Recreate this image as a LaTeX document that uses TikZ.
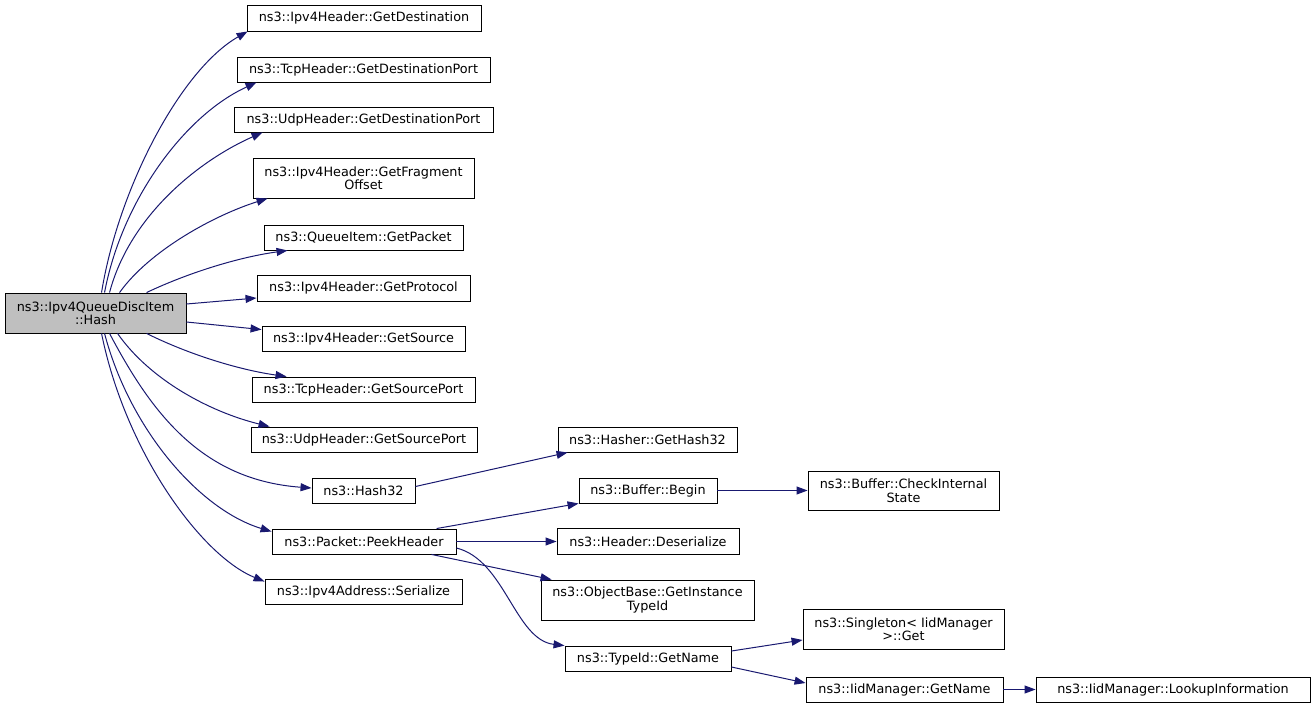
\documentclass[tikz,border=0pt]{standalone}
\usepackage{fontspec}
\setmainfont{DejaVu Sans}
\usetikzlibrary{arrows.meta,calc}
\definecolor{edgeblue}{HTML}{191970}
\definecolor{mainfill}{HTML}{BFBFBF}
\begin{document}
\begin{tikzpicture}[x=1pt,y=-1pt,
  box/.style={draw=black, line width=0.9pt, fill=white, inner sep=0pt, align=center,
    font=\fontsize{12.8}{13.5}\selectfont},
  mainbox/.style={box, fill=mainfill},
  e/.style={draw=edgeblue, line width=1pt, -{Triangle[length=11pt,width=8pt]}}]
\useasboundingbox (0,0) rectangle (1315,707);
% nodes
\node[mainbox, minimum width=181pt, minimum height=40pt] (main) at (95.5,313) {ns3::Ipv4QueueDiscItem\\::Hash};
\node[box, minimum width=234pt, minimum height=26pt] (n1) at (364,18) {ns3::Ipv4Header::GetDestination};
\node[box, minimum width=253pt, minimum height=25pt] (n2) at (363.5,69.5) {ns3::TcpHeader::GetDestinationPort};
\node[box, minimum width=259pt, minimum height=25pt] (n3) at (363.5,119.5) {ns3::UdpHeader::GetDestinationPort};
\node[box, minimum width=221pt, minimum height=40pt] (n4) at (363.5,178) {ns3::Ipv4Header::GetFragment\\Offset};
\node[box, minimum width=199pt, minimum height=25pt] (n5) at (363.5,237.5) {ns3::QueueItem::GetPacket};
\node[box, minimum width=213pt, minimum height=26pt] (n6) at (363.5,288) {ns3::Ipv4Header::GetProtocol};
\node[box, minimum width=203pt, minimum height=25pt] (n7) at (363.5,338.5) {ns3::Ipv4Header::GetSource};
\node[box, minimum width=223pt, minimum height=25pt] (n8) at (363.5,389.5) {ns3::TcpHeader::GetSourcePort};
\node[box, minimum width=226pt, minimum height=25pt] (n9) at (364,439.5) {ns3::UdpHeader::GetSourcePort};
\node[box, minimum width=103pt, minimum height=25pt] (n10) at (363.5,490.5) {ns3::Hash32};
\node[box, minimum width=184pt, minimum height=25pt] (n11) at (364,541.5) {ns3::Packet::PeekHeader};
\node[box, minimum width=197pt, minimum height=25pt] (n12) at (363.5,591.5) {ns3::Ipv4Address::Serialize};
\node[box, minimum width=179pt, minimum height=25pt] (h1) at (647.5,439.5) {ns3::Hasher::GetHash32};
\node[box, minimum width=138pt, minimum height=25pt] (b1) at (648,490.5) {ns3::Buffer::Begin};
\node[box, minimum width=191pt, minimum height=39pt] (c1) at (903.5,490.5) {ns3::Buffer::CheckInternal\\State};
\node[box, minimum width=182pt, minimum height=26pt] (d1) at (648,541.5) {ns3::Header::Deserialize};
\node[box, minimum width=213pt, minimum height=40pt] (g1) at (647.5,600) {ns3::ObjectBase::GetInstance\\TypeId};
\node[box, minimum width=166pt, minimum height=25pt] (t1) at (648,658.5) {ns3::TypeId::GetName};
\node[box, minimum width=201pt, minimum height=40pt] (s1) at (903.5,629) {ns3::Singleton< IidManager\\>::Get};
\node[box, minimum width=197pt, minimum height=25pt] (i1) at (904.5,689.5) {ns3::IidManager::GetName};
\node[box, minimum width=274pt, minimum height=25pt] (l1) at (1173,689.5) {ns3::IidManager::LookupInformation};
% edges from main
\draw[e] ($(main.north west)+(97,0)$) .. controls (118,190) and (180,70) .. ($(n1.south west)+(1,0)$);
\draw[e] ($(main.north west)+(100,0)$) .. controls (122,200) and (185,115) .. ($(n2.south west)+(20,0)$);
\draw[e] ($(main.north west)+(105,0)$) .. controls (130,215) and (200,160) .. ($(n3.south west)+(29,0)$);
\draw[e] ($(main.north west)+(115,0)$) .. controls (150,250) and (215,215) .. ($(n4.south west)+(15,0)$);
\draw[e] ($(main.north west)+(142,0)$) .. controls (190,272) and (240,257) .. ($(n5.south west)+(24,0)$);
\draw[e] ($(main.east)+(0,-9)$) -- ($(n6.west)+(0,10)$);
\draw[e] ($(main.east)+(0,9)$) -- ($(n7.north west)+(0,4)$);
\draw[e] ($(main.south west)+(142,0)$) .. controls (190,355) and (240,370) .. ($(n8.north west)+(35,0)$);
\draw[e] ($(main.south west)+(113,0)$) .. controls (150,380) and (210,412) .. ($(n9.north west)+(19,0)$);
\draw[e] ($(main.south west)+(105,0)$) .. controls (150,410) and (200,480) .. ($(n10.west)+(0,-2.5)$);
\draw[e] ($(main.south west)+(100,0)$) .. controls (130,430) and (200,510) .. ($(n11.north west)+(0,3)$);
\draw[e] ($(main.south west)+(97,0)$) .. controls (125,450) and (200,555) .. ($(n12.north west)+(0,3)$);
% second level
\draw[e] ($(n10.east)+(0,-4)$) -- ($(h1.south west)+(10,0)$);
\draw[e] ($(n11.north west)+(165,0)$) -- (b1.south west);
\draw[e] (n11.east) -- (d1.west);
\draw[e] ($(n11.south west)+(160,0)$) -- ($(g1.north west)+(11,0)$);
\draw[e] ($(n11.east)+(0,6.5)$) .. controls (505,560) and (515,640) .. (t1.north west);
\draw[e] (b1.east) -- (c1.west);
\draw[e] ($(t1.east)+(0,-7.5)$) -- ($(s1.west)+(0,11)$);
\draw[e] ($(t1.east)+(0,8.5)$) -- ($(i1.west)+(0,-6.5)$);
\draw[e] (i1.east) -- (l1.west);
\end{tikzpicture}
\end{document}
